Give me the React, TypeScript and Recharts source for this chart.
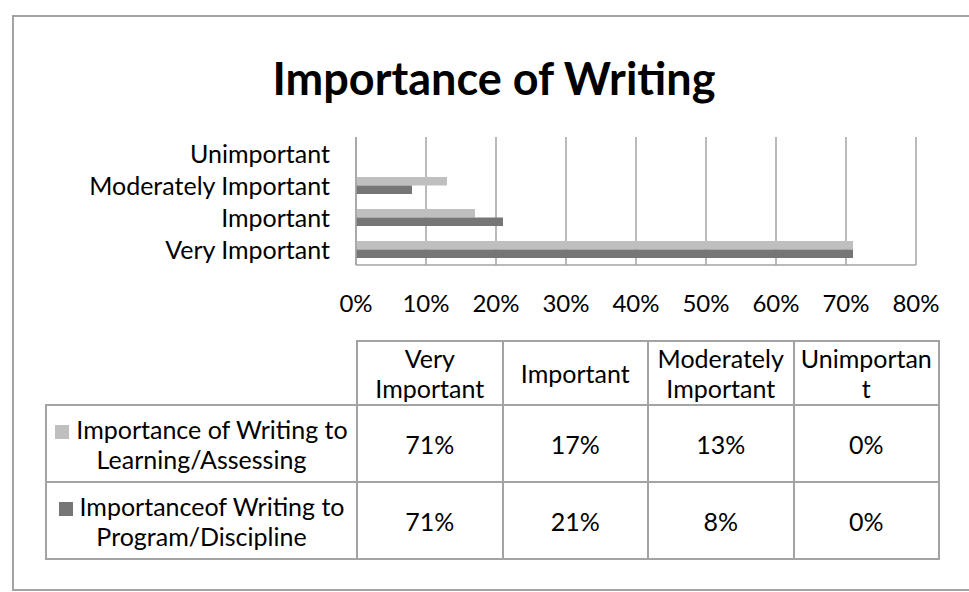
import React from 'react';
import { BarChart, Bar, XAxis, YAxis, CartesianGrid } from 'recharts';

const categories = ['Very Important', 'Important', 'Moderately Important', 'Unimportant'];
const tableHeaders = [['Very', 'Important'], ['Important'], ['Moderately', 'Important'], ['Unimportan', 't']];
const learningValues = [71, 17, 13, 0];
const programValues = [71, 21, 8, 0];
const xTicks = [0, 10, 20, 30, 40, 50, 60, 70, 80];
const seriesNames = [['Importance of Writing to', 'Learning/Assessing'], ['Importanceof Writing to', 'Program/Discipline']];

const LIGHT = '#BFBFBF';
const DARK = '#767676';
const LINE = '#A3A3A3';
const FONT = 'Lato, "Open Sans", sans-serif';

const chartData = categories
  .map((c, i) => ({ name: c, learning: learningValues[i], program: programValues[i] }))
  .reverse();

const XTick = (props: any) => {
  const { x, y, payload } = props;
  return (
    <text x={x} y={y} textAnchor="middle" dominantBaseline="central" fontSize={24} fill="#000" fontFamily={FONT}>
      {payload.value}%
    </text>
  );
};

const YTick = (props: any) => {
  const { x, y, payload } = props;
  return (
    <text x={x} y={y} textAnchor="end" dominantBaseline="central" fontSize={25} fill="#000" fontFamily={FONT}>
      {payload.value}
    </text>
  );
};

const cellBorder = `2px solid ${LINE}`;

export default function App() {
  const colW = 145.5;
  return (
    <div style={{ position: 'absolute', left: 0, top: 0, width: 969, height: 592, background: '#fff', fontFamily: FONT, overflow: 'hidden' }}>
      <div style={{ position: 'absolute', left: 12, top: 15, width: 980, height: 576, border: `2px solid ${LINE}`, boxSizing: 'border-box' }} />
      <div style={{ position: 'absolute', left: 0, top: 50, width: 988, textAlign: 'center', fontSize: 45, fontWeight: 700, color: '#000', lineHeight: '56px' }}>
        Importance of Writing
      </div>
      <div style={{ position: 'absolute', left: 0, top: 0 }}>
        <BarChart
          width={969}
          height={320}
          data={chartData}
          layout="vertical"
          margin={{ top: 137, right: 53, left: 0, bottom: 5 }}
          barSize={8.5}
          barGap={0}
        >
          <CartesianGrid horizontal={false} stroke={LINE} strokeWidth={1.5} />
          <XAxis
            type="number"
            domain={[0, 80]}
            ticks={xTicks}
            height={50}
            tickLine={false}
            tickSize={6}
            tickMargin={31}
            axisLine={{ stroke: LINE, strokeWidth: 1.5 }}
            tick={<XTick />}
            interval={0}
          />
          <YAxis
            type="category"
            dataKey="name"
            width={356}
            tickLine={false}
            tickSize={6}
            tickMargin={20}
            axisLine={{ stroke: LINE, strokeWidth: 1.5 }}
            tick={<YTick />}
            interval={0}
          />
          <Bar dataKey="learning" fill={LIGHT} isAnimationActive={false} />
          <Bar dataKey="program" fill={DARK} isAnimationActive={false} />
        </BarChart>
      </div>
      <table
        style={{
          position: 'absolute',
          left: 45,
          top: 340,
          borderCollapse: 'collapse',
          tableLayout: 'fixed',
          fontSize: 25,
          color: '#000',
          fontFamily: FONT,
          lineHeight: '30px',
        }}
      >
        <colgroup>
          <col style={{ width: 311 }} />
          {categories.map((c) => (
            <col key={c} style={{ width: colW }} />
          ))}
        </colgroup>
        <tbody>
          <tr style={{ height: 64 }}>
            <td style={{ border: 'none', padding: 0 }} />
            {tableHeaders.map((h, i) => (
              <td key={i} style={{ border: cellBorder, textAlign: 'center', padding: 0, verticalAlign: 'middle', whiteSpace: 'nowrap' }}>
                {h.map((line, j) => (
                  <div key={j}>{line}</div>
                ))}
              </td>
            ))}
          </tr>
          {[learningValues, programValues].map((vals, r) => (
            <tr key={r} style={{ height: 77 }}>
              <td style={{ border: cellBorder, textAlign: 'center', padding: 0, verticalAlign: 'middle', whiteSpace: 'nowrap' }}>
                <div>
                  <span style={{ display: 'inline-block', width: 14, height: 14, background: r === 0 ? LIGHT : DARK, marginRight: 7, verticalAlign: 'baseline' }} />
                  {seriesNames[r][0]}
                </div>
                <div>{seriesNames[r][1]}</div>
              </td>
              {vals.map((v, i) => (
                <td key={i} style={{ border: cellBorder, textAlign: 'center', padding: 0, verticalAlign: 'middle' }}>
                  {v}%
                </td>
              ))}
            </tr>
          ))}
        </tbody>
      </table>
    </div>
  );
}
